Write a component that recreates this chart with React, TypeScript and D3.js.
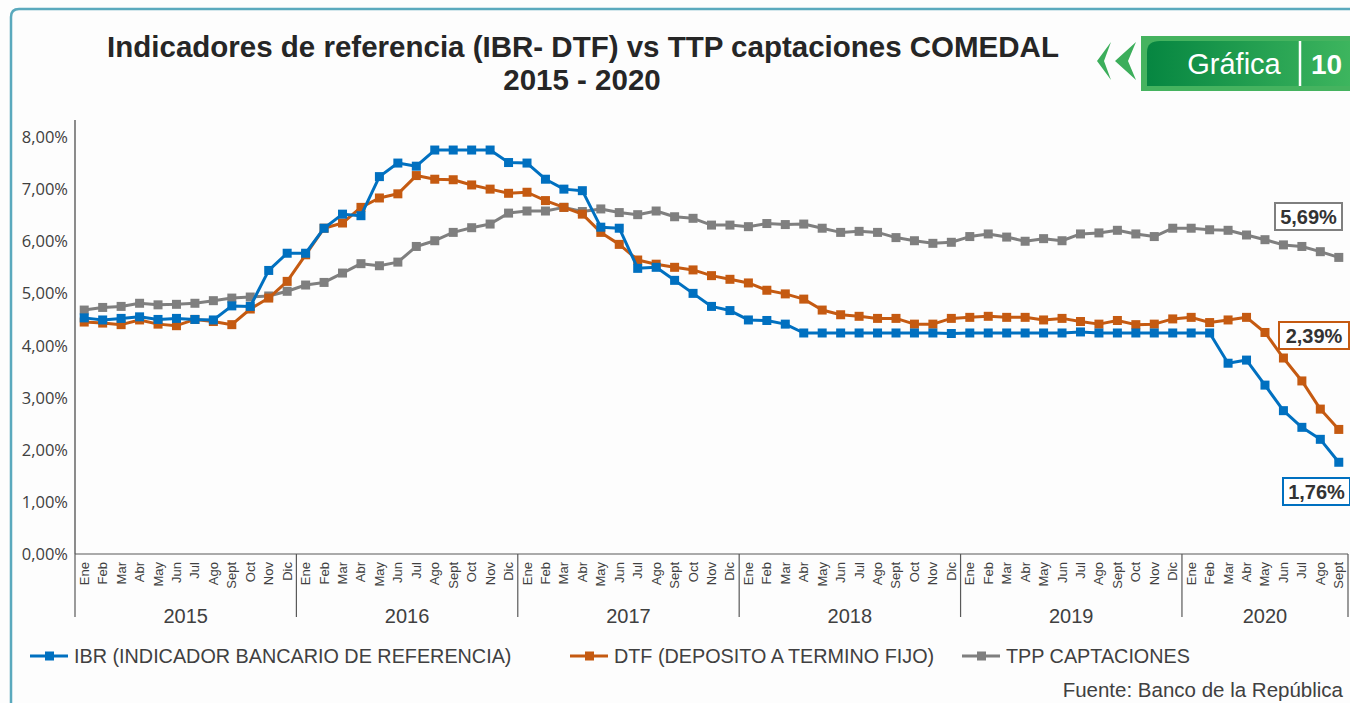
import * as d3 from 'd3'

const months = ['Ene', 'Feb', 'Mar', 'Abr', 'May', 'Jun', 'Jul', 'Ago', 'Sept', 'Oct', 'Nov', 'Dic']
const years = ['2015', '2016', '2017', '2018', '2019', '2020']
const yTicks = [0, 1, 2, 3, 4, 5, 6, 7, 8]

const ibr = [
  4.53, 4.49, 4.52, 4.55, 4.50, 4.52, 4.50, 4.49, 4.76, 4.75, 5.44, 5.77,
  5.77, 6.25, 6.52, 6.49, 7.24, 7.50, 7.44, 7.75, 7.75, 7.75, 7.75, 7.51,
  7.50, 7.19, 7.00, 6.97, 6.27, 6.25, 5.48, 5.50, 5.25, 5.00, 4.75, 4.67,
  4.49, 4.48, 4.41, 4.24, 4.24, 4.24, 4.24, 4.24, 4.24, 4.24, 4.24, 4.23,
  4.24, 4.24, 4.24, 4.24, 4.24, 4.24, 4.26, 4.24, 4.24, 4.24, 4.24, 4.24,
  4.24, 4.24, 3.66, 3.72, 3.24, 2.75, 2.43, 2.20, 1.76,
]
const dtf = [
  4.45, 4.43, 4.40, 4.49, 4.41, 4.38, 4.50, 4.46, 4.40, 4.70, 4.91, 5.23,
  5.74, 6.25, 6.35, 6.65, 6.83, 6.91, 7.26, 7.19, 7.18, 7.08, 7.00, 6.92,
  6.94, 6.78, 6.65, 6.52, 6.17, 5.94, 5.64, 5.56, 5.50, 5.45, 5.34, 5.27,
  5.20, 5.06, 4.99, 4.89, 4.68, 4.59, 4.56, 4.52, 4.52, 4.41, 4.41, 4.52,
  4.54, 4.56, 4.54, 4.54, 4.49, 4.52, 4.46, 4.41, 4.48, 4.40, 4.41, 4.51,
  4.54, 4.44, 4.49, 4.54, 4.25, 3.76, 3.32, 2.78, 2.39,
]
const tpp = [
  4.68, 4.73, 4.75, 4.81, 4.78, 4.79, 4.81, 4.86, 4.91, 4.93, 4.95, 5.04,
  5.16, 5.21, 5.39, 5.57, 5.53, 5.60, 5.90, 6.01, 6.17, 6.26, 6.33, 6.54,
  6.58, 6.58, 6.65, 6.57, 6.62, 6.55, 6.51, 6.58, 6.47, 6.44, 6.31, 6.31,
  6.28, 6.34, 6.32, 6.33, 6.25, 6.17, 6.19, 6.17, 6.07, 6.01, 5.96, 5.98,
  6.09, 6.14, 6.08, 6.00, 6.05, 6.01, 6.14, 6.16, 6.21, 6.14, 6.09, 6.25,
  6.25, 6.22, 6.21, 6.12, 6.03, 5.93, 5.90, 5.80, 5.69,
]

const seriesNames = ['IBR (INDICADOR BANCARIO DE REFERENCIA)', 'DTF (DEPOSITO A TERMINO FIJO)', 'TPP CAPTACIONES']
const seriesColors = ['#0070c0', '#c55a11', '#7f7f7f']
const endLabels = ['1,76%', '2,39%', '5,69%']

// one key per month, e.g. "2015-Ene"
const keys: string[] = []
years.forEach(y => months.forEach(m => { if (keys.length < ibr.length) keys.push(y + '-' + m) }))

const W = 1350, H = 703
const left = 75, right = 1348, top = 137, bottom = 554
const sans = 'Liberation Sans, Arial, sans-serif'

export default function App() {
  const x = d3.scaleBand().domain(keys).range([left, right])
  const bw = x.bandwidth()
  const cx = (k: string) => (x(k) as number) + bw / 2
  const y = d3.scaleLinear().domain([0, 8]).range([bottom, top])
  const line = d3.line<number>().x((_, i) => cx(keys[i])).y(d => y(d))
  const all = [ibr, dtf, tpp]
  const fmt = (v: number) => v.toFixed(2).replace('.', ',') + '%'

  const yearGroups = years.map(yr => {
    const ks = keys.filter(k => k.startsWith(yr))
    const x0 = x(ks[0]) as number
    const x1 = (x(ks[ks.length - 1]) as number) + bw
    return { yr, x0, x1 }
  })

  // end label boxes: [series index, box x, box y, w, h]
  const boxes: [number, number, number, number, number][] = [
    [2, 1275, 203, 67, 27],
    [1, 1279, 322, 70, 27],
    [0, 1283, 478, 67, 27],
  ]

  return (
    <svg width={W} height={H} style={{ display: 'block', position: 'absolute', left: 0, top: 0 }}>
      <rect width={W} height={H} fill="#fdfdfd" />
      <path d={`M11,${H} V17 Q11,9 19,9 H${W}`} fill="none" stroke="#5aa9bd" strokeWidth={2.5} />

      <g fontFamily={sans} fontWeight="bold" fontSize={29.5} fill="#262626" textAnchor="middle">
        <text x={583} y={57}>Indicadores de referencia (IBR- DTF) vs TTP captaciones COMEDAL</text>
        <text x={582} y={90}>2015 - 2020</text>
      </g>

      {/* badge */}
      <defs>
        <linearGradient id="bg" x1="0" x2="1" y1="0" y2="0">
          <stop offset="0" stopColor="#068641" />
          <stop offset="1" stopColor="#3db55e" />
        </linearGradient>
      </defs>
      <path d="M1097,61 L1111,42 L1104,61 L1111,80 Z" fill="#3cae5b" />
      <path d="M1115,61 L1136,42 L1128,61 L1136,80 Z" fill="#3cae5b" />
      <rect x={1141} y={36} width={209} height={55} fill="#45b35f" />
      <path d="M1147,86 V52 Q1147,41 1160,41 H1350 V86 Z" fill="url(#bg)" />
      <line x1={1300} x2={1300} y1={41} y2={86} stroke="#fff" strokeWidth={2.5} />
      <text x={1234} y={74} fill="#fff" fontFamily={sans} fontSize={29} textAnchor="middle">Gráfica</text>
      <text x={1311} y={74} fill="#fff" fontFamily={sans} fontSize={28} fontWeight="bold">10</text>

      {/* y axis */}
      <line x1={left} x2={left} y1={120} y2={bottom} stroke="#404040" strokeWidth={1.2} />
      <g fontFamily="Open Sans, sans-serif" fontSize={16.5} fill="#404040" textAnchor="end">
        {yTicks.map(t => (
          <text key={t} x={68} y={y(t) + 6}>{fmt(t)}</text>
        ))}
      </g>

      {/* x axis */}
      <line x1={left} x2={right} y1={bottom} y2={bottom} stroke="#595959" strokeWidth={1.2} />
      {yearGroups.map(g => (
        <g key={g.yr}>
          <line x1={g.x0} x2={g.x0} y1={bottom} y2={617} stroke="#595959" strokeWidth={1.2} />
          <text x={(g.x0 + g.x1) / 2} y={623} textAnchor="middle" fontFamily={sans} fontSize={20} fill="#404040">{g.yr}</text>
        </g>
      ))}
      <line x1={right} x2={right} y1={bottom} y2={617} stroke="#595959" strokeWidth={1.2} />
      <g fontFamily={sans} fontSize={13} fill="#404040" textAnchor="end">
        {keys.map(k => (
          <text key={k} transform={`translate(${cx(k) + 4.5},${562}) rotate(-90)`}>{k.split('-')[1]}</text>
        ))}
      </g>

      {/* series */}
      {all.map((s, si) => (
        <g key={si}>
          <path d={line(s) || ''} fill="none" stroke={seriesColors[si]} strokeWidth={3} strokeLinejoin="round" />
          {s.map((v, i) => (
            <rect key={i} x={cx(keys[i]) - 4.5} y={y(v) - 4.5} width={9} height={9} fill={seriesColors[si]} />
          ))}
        </g>
      )).reverse()}

      {boxes.map(([si, bx, by, bwid, bh]) => (
        <g key={si}>
          <rect x={bx} y={by} width={bwid} height={bh} fill="#fff" stroke={seriesColors[si]} strokeWidth={2} />
          <text x={bx + bwid / 2} y={by + bh / 2 + 7} textAnchor="middle" fontFamily={sans} fontWeight="bold" fontSize={20} fill="#333">{endLabels[si]}</text>
        </g>
      ))}

      {/* legend */}
      {[30, 570, 962].map((lx, si) => (
        <g key={si}>
          <line x1={lx} x2={lx + 38} y1={656} y2={656} stroke={seriesColors[si]} strokeWidth={3} />
          <rect x={lx + 15} y={651.5} width={9} height={9} fill={seriesColors[si]} />
          <text x={lx + 44} y={663} fontFamily={sans} fontSize={19.8} fill="#404040">{seriesNames[si]}</text>
        </g>
      ))}

      <text x={1343} y={697} textAnchor="end" fontFamily={sans} fontSize={20.5} fill="#404040">Fuente: Banco de la República</text>
    </svg>
  )
}
